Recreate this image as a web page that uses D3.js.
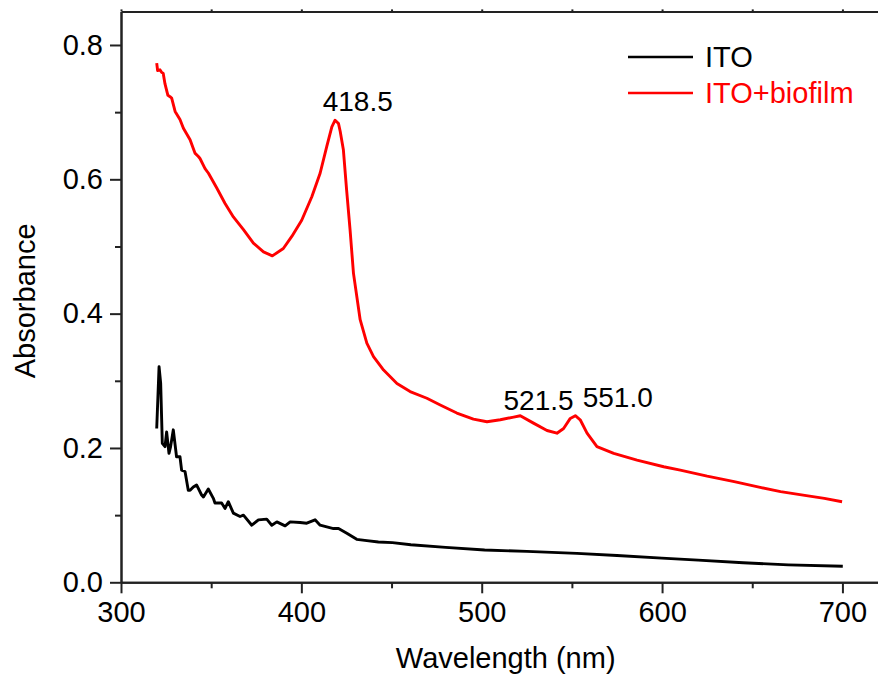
<!DOCTYPE html>
<html>
<head>
<meta charset="utf-8">
<script src="https://cdn.jsdelivr.net/npm/d3@7"></script>
<style>
  body { margin: 0; background: #fff; }
  svg { display: block; font-family: "Liberation Sans", Arial, sans-serif; }
</style>
</head>
<body>
<div id="chart"></div>
<script>
// ITO+biofilm spectrum: wavelength (nm) / absorbance
const redWave = [319.8, 320.3, 321.6, 322.6, 323.4, 324.4, 326.0, 327.2, 328.1, 330.0, 332.7, 334.6,
  338.3, 341.0, 342.9, 343.8, 346.6, 348.5, 353.1, 357.7, 362.3, 367.9, 373.4, 379.0, 383.9, 390.0,
  394.7, 400.2, 405.8, 410.4, 414.1, 416.9, 418.7, 420.6, 421.5, 423.3, 425.1, 427.0, 428.9, 432.6,
  436.3, 440.0, 445.6, 453.0, 460.3, 469.6, 477.0, 486.2, 495.4, 502.9, 510.3, 517.7, 521.4, 528.7,
  536.2, 541.7, 545.4, 549.1, 551.9, 554.6, 558.4, 563.9, 573.2, 586.1, 600.9, 610.1, 625.0, 640.0,
  655.0, 665.7, 680.0, 690.0, 699.8];
const redAbs = [0.773, 0.762, 0.763, 0.759, 0.758, 0.742, 0.725, 0.723, 0.721, 0.701, 0.689, 0.676,
  0.659, 0.639, 0.634, 0.631, 0.616, 0.609, 0.587, 0.564, 0.544, 0.525, 0.505, 0.492, 0.486, 0.497,
  0.515, 0.539, 0.574, 0.609, 0.649, 0.678, 0.688, 0.683, 0.672, 0.644, 0.584, 0.525, 0.460, 0.391,
  0.356, 0.336, 0.316, 0.296, 0.284, 0.274, 0.264, 0.252, 0.243, 0.239, 0.242, 0.246, 0.248, 0.237,
  0.226, 0.222, 0.229, 0.244, 0.248, 0.242, 0.222, 0.202, 0.192, 0.182, 0.172, 0.167, 0.158, 0.150,
  0.141, 0.135, 0.129, 0.125, 0.120];

// bare ITO spectrum
const blackWave = [319.8, 321.1, 322.0, 322.9, 324.4, 325.3, 326.6, 327.5, 329.0, 330.8, 332.7, 333.6,
  335.5, 337.3, 338.3, 340.1, 341.9, 344.7, 345.7, 348.4, 351.2, 352.1, 355.8, 357.7, 359.5, 362.3,
  366.0, 367.9, 372.5, 376.2, 380.8, 383.6, 386.4, 391.0, 393.8, 399.3, 403.0, 407.6, 410.4, 417.8,
  420.6, 425.2, 430.7, 436.3, 442.7, 450.5, 460.7, 480.0, 501.6, 525.0, 552.8, 575.0, 599.9, 620.0,
  645.0, 670.0, 700.2];
const blackAbs = [0.229, 0.321, 0.296, 0.207, 0.202, 0.224, 0.192, 0.202, 0.227, 0.187, 0.187, 0.167,
  0.165, 0.137, 0.137, 0.142, 0.145, 0.130, 0.127, 0.139, 0.125, 0.118, 0.118, 0.110, 0.120, 0.103,
  0.098, 0.100, 0.085, 0.093, 0.094, 0.085, 0.090, 0.084, 0.090, 0.089, 0.088, 0.093, 0.085, 0.080,
  0.080, 0.073, 0.064, 0.062, 0.060, 0.059, 0.056, 0.052, 0.048, 0.046, 0.043, 0.040, 0.036, 0.033,
  0.029, 0.026, 0.024];

// peak labels
const peakNames = ['418.5', '521.5', '551.0'];
const peakWave = [418.5, 521.5, 551.0];
const peakAbs = [0.688, 0.248, 0.248];

const xTicks = [300, 400, 500, 600, 700];
const xMinor = [350, 450, 550, 650];
const yTicks = [0.0, 0.2, 0.4, 0.6, 0.8];
const yMinor = [0.1, 0.3, 0.5, 0.7];

const seriesNames = ['ITO', 'ITO+biofilm'];
const seriesColors = ['#000000', '#ff0000'];

const width = 878, height = 677;
const frame = { left: 121, right: 878.5, top: 11.4, bottom: 582.3 };
// label placement relative to each peak (pixels)
const labelOffsets = [[-12, -9], [-17, -6], [9, -9]];

const svg = d3.select('#chart').append('svg')
  .attr('width', width)
  .attr('height', height);

const x = d3.scaleLinear().domain([300, 720]).range([frame.left, frame.right]);
const y = d3.scaleLinear().domain([0, 0.85]).range([frame.bottom, frame.top]);

// curves
const line = d3.line().x(d => x(d[0])).y(d => y(d[1]));
const blackData = d3.zip(blackWave, blackAbs);
const redData = d3.zip(redWave, redAbs);

svg.append('path').datum(blackData)
  .attr('d', line).attr('fill', 'none')
  .attr('stroke', seriesColors[0]).attr('stroke-width', 2.9)
  .attr('stroke-linejoin', 'round');
svg.append('path').datum(redData)
  .attr('d', line).attr('fill', 'none')
  .attr('stroke', seriesColors[1]).attr('stroke-width', 2.9)
  .attr('stroke-linejoin', 'round');

// axes
function styleAxis(g) {
  g.select('.domain').attr('stroke', '#222').attr('stroke-width', 2);
  g.selectAll('.tick line').attr('stroke', '#222').attr('stroke-width', 2);
  g.selectAll('.tick text').attr('fill', '#000').style('font-size', '29px');
}

svg.append('g')
  .attr('transform', `translate(0,${frame.bottom})`)
  .call(d3.axisBottom(x).tickValues(xTicks).tickSize(11).tickSizeOuter(0).tickPadding(8).tickFormat(d3.format('d')))
  .call(styleAxis)
  .call(g => g.selectAll('.tick text').attr('dy', '0.71em'));
svg.append('g')
  .attr('transform', `translate(0,${frame.bottom})`)
  .call(d3.axisBottom(x).tickValues(xMinor).tickSize(6).tickSizeOuter(0).tickFormat(''))
  .call(styleAxis);

svg.append('g')
  .attr('transform', `translate(${frame.left},0)`)
  .call(d3.axisLeft(y).tickValues(yTicks).tickSize(11).tickSizeOuter(0).tickPadding(7).tickFormat(d3.format('.1f')))
  .call(styleAxis);
svg.append('g')
  .attr('transform', `translate(${frame.left},0)`)
  .call(d3.axisLeft(y).tickValues(yMinor).tickSize(6).tickSizeOuter(0).tickFormat(''))
  .call(styleAxis);

// top and right frame
svg.append('g')
  .attr('transform', `translate(0,${frame.top})`)
  .call(d3.axisTop(x).tickValues(xTicks.concat(xMinor)).tickSize(2).tickSizeOuter(0).tickFormat(''))
  .call(styleAxis);
svg.append('g')
  .attr('transform', `translate(${frame.right},0)`)
  .call(d3.axisRight(y).tickValues(yTicks).tickSize(2).tickSizeOuter(0).tickFormat(''))
  .call(styleAxis);

// axis titles
svg.append('text')
  .attr('x', (frame.left + x(700)) / 2 + 24)
  .attr('y', 668)
  .attr('text-anchor', 'middle')
  .style('font-size', '29px')
  .text('Wavelength (nm)');
svg.append('text')
  .attr('transform', `translate(35,${(frame.top + frame.bottom) / 2 + 4}) rotate(-90)`)
  .attr('text-anchor', 'middle')
  .style('font-size', '29px')
  .text('Absorbance');

// peak labels
svg.selectAll('.peak')
  .data(peakNames)
  .enter().append('text')
  .attr('class', 'peak')
  .attr('x', (d, i) => x(peakWave[i]) + labelOffsets[i][0])
  .attr('y', (d, i) => y(peakAbs[i]) + labelOffsets[i][1])
  .style('font-size', '28px')
  .text(d => d);

// legend
const legend = svg.append('g').attr('transform', 'translate(628,57)');
seriesNames.forEach((name, i) => {
  legend.append('line')
    .attr('x1', 0).attr('x2', 65)
    .attr('y1', i * 36).attr('y2', i * 36)
    .attr('stroke', seriesColors[i]).attr('stroke-width', 2.6);
  legend.append('text')
    .attr('x', 77).attr('y', i * 36 + 10)
    .attr('fill', seriesColors[i])
    .style('font-size', '29px')
    .text(name);
});
</script>
</body>
</html>
